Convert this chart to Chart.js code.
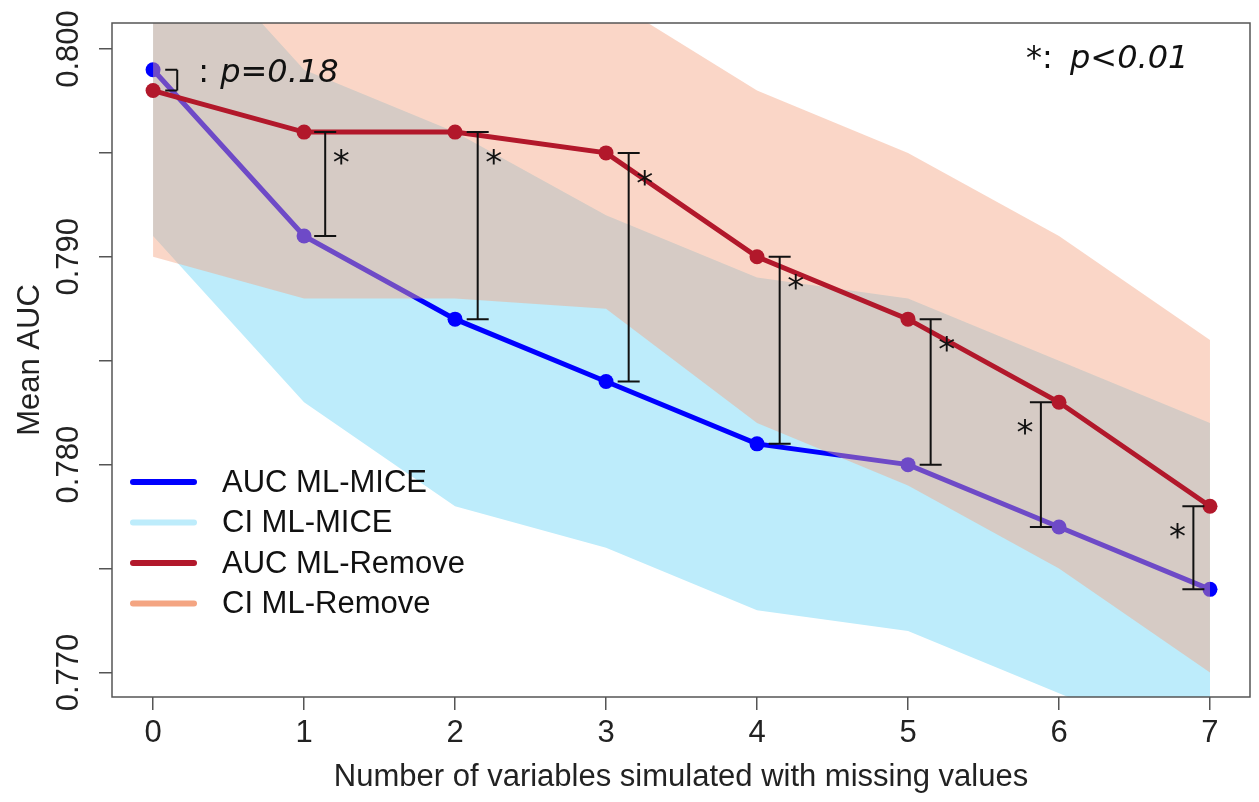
<!DOCTYPE html>
<html>
<head>
<meta charset="utf-8">
<script src="https://cdn.jsdelivr.net/npm/chart.js@4.4.1/dist/chart.umd.min.js"></script>
<style>
  html, body { margin: 0; padding: 0; background: #fff; }
  #wrap { width: 1259px; height: 802px; }
</style>
</head>
<body>
<div id="wrap"><canvas id="auc" width="1259" height="802"></canvas></div>
<script>
// data
var nMissing = [0, 1, 2, 3, 4, 5, 6, 7];
var aucMice = [0.799, 0.791, 0.787, 0.784, 0.781, 0.780, 0.777, 0.774];
var ciMiceHigh = [0.807, 0.799, 0.796, 0.792, 0.789, 0.788, 0.785, 0.782];
var ciMiceLow = [0.791, 0.783, 0.778, 0.776, 0.773, 0.772, 0.769, 0.766];
var aucRemove = [0.798, 0.796, 0.796, 0.795, 0.790, 0.787, 0.783, 0.778];
var ciRemoveHigh = [0.806, 0.804, 0.804, 0.8025, 0.798, 0.795, 0.791, 0.786];
var ciRemoveLow = [0.790, 0.788, 0.788, 0.7875, 0.782, 0.779, 0.775, 0.770];
var pMarks = ['', '*', '*', '*', '*', '*', '*', '*'];
var xTicks = [0, 1, 2, 3, 4, 5, 6, 7];
var yTicks = [0.770, 0.775, 0.780, 0.785, 0.790, 0.795, 0.800];

var BLUE = 'rgb(0,0,255)';
var LIGHTBLUE = 'rgb(189,236,251)';
var RED = 'rgb(178,24,43)';
var PEACH = 'rgb(244,165,130)';
var PEACH_FILL = 'rgba(244,165,130,0.45)';

// where the comparison bars sit, relative to each x
var barShift = [0.16, 0.14, 0.15, 0.15, 0.15, 0.15, -0.12, -0.11];

function pts(ys) {
  return nMissing.map(function(x, i) { return { x: x, y: ys[i] }; });
}

Chart.defaults.font.family = "'Liberation Sans', Arial, sans-serif";
Chart.defaults.color = '#222';

var extras = {
  id: 'extras',
  afterDatasetsDraw: function(chart) {
    var ctx = chart.ctx, xs = chart.scales.x, ys = chart.scales.y;
    ctx.save();
    // comparison bars
    ctx.strokeStyle = '#111';
    ctx.lineWidth = 2;
    for (var i = 0; i < nMissing.length; i++) {
      var bx = xs.getPixelForValue(nMissing[i] + barShift[i]);
      var top = ys.getPixelForValue(Math.max(aucMice[i], aucRemove[i]));
      var bot = ys.getPixelForValue(Math.min(aucMice[i], aucRemove[i]));
      ctx.beginPath();
      ctx.moveTo(bx, top); ctx.lineTo(bx, bot);
      if (i === 0) {
        ctx.moveTo(bx - 12, top); ctx.lineTo(bx, top);
        ctx.moveTo(bx - 12, bot); ctx.lineTo(bx, bot);
      } else {
        ctx.moveTo(bx - 11, top); ctx.lineTo(bx + 11, top);
        ctx.moveTo(bx - 11, bot); ctx.lineTo(bx + 11, bot);
      }
      ctx.stroke();
      if (pMarks[i]) {
        ctx.fillStyle = '#111';
        ctx.font = "34px 'DejaVu Sans'";
        ctx.textAlign = 'center';
        ctx.textBaseline = 'middle';
        var sx = barShift[i] > 0 ? bx + 16 : bx - 16;
        ctx.fillText(pMarks[i], sx, top + 33);
      }
    }

    // p-value notes
    ctx.fillStyle = '#111';
    ctx.textBaseline = 'middle';
    ctx.textAlign = 'left';
    var ax = xs.getPixelForValue(nMissing[0] + barShift[0]) + 21;
    ctx.font = "32px 'DejaVu Sans'";
    ctx.fillText(':', ax, 74);
    ctx.font = "italic 32px 'DejaVu Sans'";
    ctx.fillText('p=0.18', ax + 22, 74);

    ctx.font = "32px 'DejaVu Sans'";
    ctx.fillText('*:', 1026, 60);
    ctx.font = "italic 32px 'DejaVu Sans'";
    ctx.fillText('p<0.01', 1070, 60);

    // legend inside the plot
    var items = [
      ['AUC ML-MICE', BLUE],
      ['CI ML-MICE', LIGHTBLUE],
      ['AUC ML-Remove', RED],
      ['CI ML-Remove', PEACH]
    ];
    ctx.lineCap = 'round';
    ctx.lineWidth = 6;
    ctx.font = "31px 'Liberation Sans', Arial, sans-serif";
    for (var k = 0; k < items.length; k++) {
      var ly = 482 + k * 40.5;
      ctx.strokeStyle = items[k][1];
      ctx.beginPath();
      ctx.moveTo(133, ly); ctx.lineTo(194, ly);
      ctx.stroke();
      ctx.fillStyle = '#111';
      ctx.fillText(items[k][0], 222, ly + 1);
    }
    ctx.restore();
  },
  afterDraw: function(chart) {
    var a = chart.chartArea, ctx = chart.ctx;
    ctx.save();
    ctx.strokeStyle = '#555';
    ctx.lineWidth = 1.5;
    ctx.strokeRect(a.left, a.top, a.right - a.left, a.bottom - a.top);
    ctx.restore();
  }
};

new Chart(document.getElementById('auc'), {
  type: 'line',
  data: {
    datasets: [
      { label: 'CI ML-MICE high', data: pts(ciMiceHigh), borderWidth: 0, pointRadius: 0, fill: false, order: 6 },
      { label: 'CI ML-MICE', data: pts(ciMiceLow), borderWidth: 0, pointRadius: 0, fill: '-1', backgroundColor: LIGHTBLUE, order: 5 },
      { label: 'AUC ML-MICE', data: pts(aucMice), borderColor: BLUE, backgroundColor: BLUE, borderWidth: 5,
        pointRadius: 7.5, pointBorderWidth: 0, pointBackgroundColor: BLUE, fill: false, order: 4 },
      { label: 'CI ML-Remove high', data: pts(ciRemoveHigh), borderWidth: 0, pointRadius: 0, fill: false, order: 3 },
      { label: 'CI ML-Remove', data: pts(ciRemoveLow), borderWidth: 0, pointRadius: 0, fill: '-1', backgroundColor: PEACH_FILL, order: 2 },
      { label: 'AUC ML-Remove', data: pts(aucRemove), borderColor: RED, backgroundColor: RED, borderWidth: 5,
        pointRadius: 7.5, pointBorderWidth: 0, pointBackgroundColor: RED, fill: false, order: 1 }
    ]
  },
  options: {
    responsive: false,
    animation: false,
    devicePixelRatio: 1,
    layout: { padding: { top: 23, right: 9, left: 0, bottom: 0 } },
    plugins: { legend: { display: false }, tooltip: { enabled: false } },
    elements: { line: { tension: 0 } },
    scales: {
      x: {
        type: 'linear',
        min: -0.272,
        max: 7.265,
        afterBuildTicks: function(s) { s.ticks = xTicks.map(function(v) { return { value: v }; }); },
        afterFit: function(s) { s.height = 105; },
        grid: { drawOnChartArea: false, drawTicks: true, tickLength: 13, color: '#555', lineWidth: 1.5 },
        border: { display: false },
        ticks: { font: { size: 31 }, color: '#222', padding: 5, maxRotation: 0, autoSkip: false },
        title: { display: true, text: 'Number of variables simulated with missing values',
                 font: { size: 31 }, color: '#222', padding: { bottom: 6, top: 0 } }
      },
      y: {
        min: 0.76882,
        max: 0.80125,
        afterBuildTicks: function(s) { s.ticks = yTicks.map(function(v) { return { value: v }; }); },
        afterFit: function(s) { s.width = 112; },
        grid: { drawOnChartArea: false, drawTicks: true, tickLength: 13, color: '#555', lineWidth: 1.5 },
        border: { display: false },
        ticks: {
          font: { size: 31 }, color: '#222', padding: -9, minRotation: 90, maxRotation: 90,
          crossAlign: 'center', autoSkip: false,
          callback: function(v) { return Math.round(v * 1000) % 10 === 0 ? v.toFixed(3) : ''; }
        },
        title: { display: true, text: 'Mean AUC', font: { size: 31 }, color: '#222', padding: { top: 12, bottom: 0 } }
      }
    }
  },
  plugins: [extras]
});
</script>
</body>
</html>
